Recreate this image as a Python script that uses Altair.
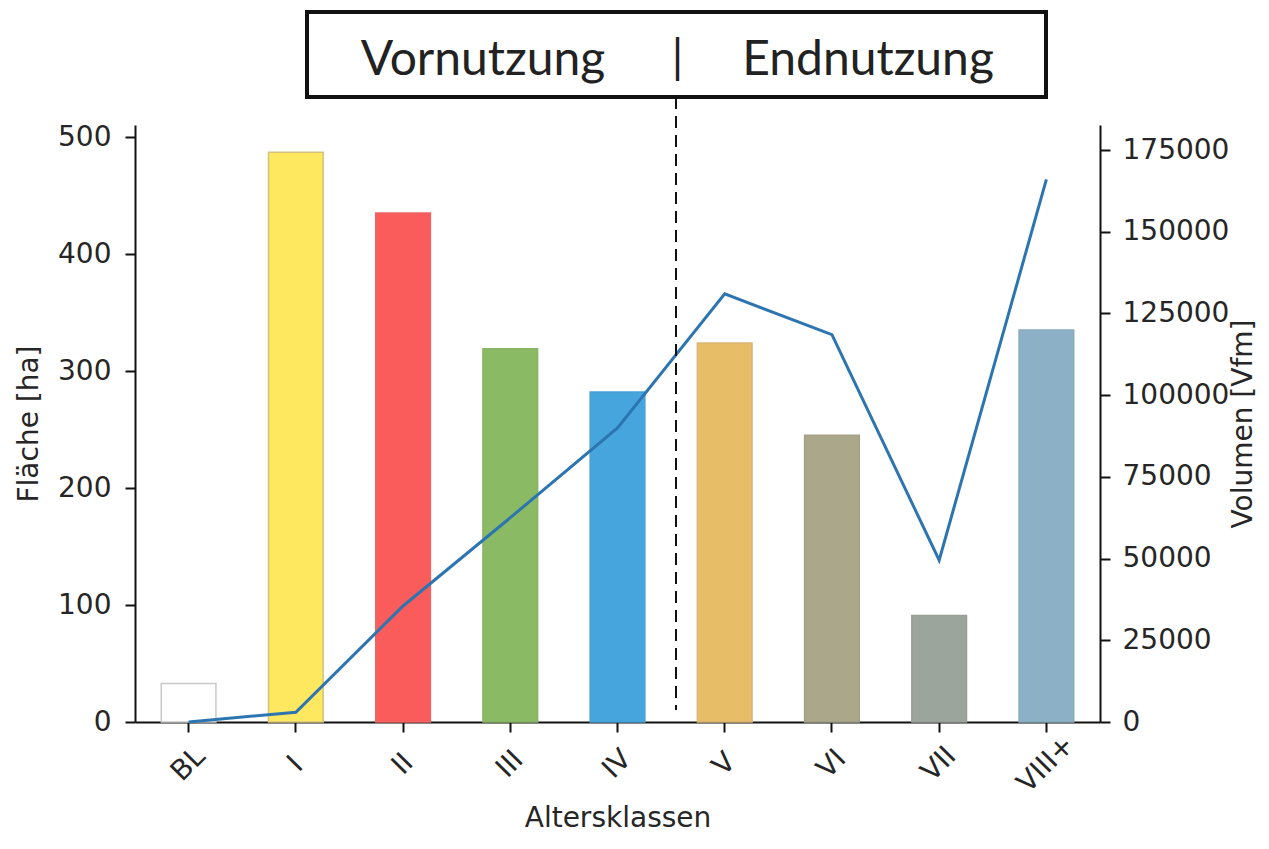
import altair as alt
import pandas as pd

categories = ["BL", "I", "II", "III", "IV", "V", "VI", "VII", "VIII+"]
flaeche = [33, 487, 435, 319, 282, 324, 245, 91, 335]
volumen = [0, 3000, 35500, 62500, 90000, 131000, 118500, 49500, 166000]
fill_colors = ["#ffffff", "#fde85f", "#fa5c5c", "#8bba64", "#47a5dd",
               "#e7bd67", "#aaa78b", "#9ca59b", "#8cb0c6"]
stroke_colors = ["#c9c9c9", "#d6c27e", "#ee6464", "#88b368", "#4aa0d4",
                 "#d9b575", "#a3a088", "#969e96", "#88abc0"]
left_ticks = [0, 100, 200, 300, 400, 500]
right_ticks = [0, 25000, 50000, 75000, 100000, 125000, 150000, 175000]
box_labels = ["Vornutzung", "|", "Endnutzung"]

df = pd.DataFrame({"Altersklasse": categories, "Flaeche": flaeche, "Volumen": volumen})
one = pd.DataFrame({"k": [0]})

FONT = "DejaVu Sans"
BOXFONT = "Lato"
TXT = "#262626"
FS = 28

axis_common = dict(labelFont=FONT, labelFontSize=FS, labelColor=TXT,
                   titleFont=FONT, titleFontSize=FS, titleColor=TXT, titleFontWeight="normal",
                   domainColor="#111111", domainWidth=2, tickColor="#111111", tickWidth=2,
                   tickSize=10, grid=False)

x_enc = alt.X("Altersklasse:N", sort=categories,
              scale=alt.Scale(domain=categories, paddingInner=0, paddingOuter=0),
              axis=alt.Axis(title="Altersklassen", labelAngle=-45, labelAlign="center",
                            labelBaseline="middle", labelPadding=32, titlePadding=7,
                            **axis_common))

bars = alt.Chart(df).mark_bar(width=alt.RelativeBandSize(0.51), strokeWidth=1.5).encode(
    x=x_enc,
    y=alt.Y("Flaeche:Q", scale=alt.Scale(domain=[0, 510.3], nice=False),
            axis=alt.Axis(title="Fläche [ha]", orient="left", values=left_ticks,
                          labelPadding=14, titlePadding=14, **axis_common)),
    fill=alt.Fill("Altersklasse:N", scale=alt.Scale(domain=categories, range=fill_colors), legend=None),
    stroke=alt.Stroke("Altersklasse:N", scale=alt.Scale(domain=categories, range=stroke_colors), legend=None),
)

line = alt.Chart(df).mark_line(color="#2d75b0", strokeWidth=3).encode(
    x=alt.X("Altersklasse:N", sort=categories),
    y=alt.Y("Volumen:Q", scale=alt.Scale(domain=[0, 182650], nice=False),
            axis=alt.Axis(title="Volumen [Vfm]", orient="right", values=right_ticks, format="d",
                          labelPadding=12, titlePadding=1, titleAngle=270, titleBaseline="top",
                          **axis_common)),
)

divider = alt.Chart(one).mark_rule(color="#111111", strokeWidth=2, strokeDash=[12, 7], xOffset=58.5).encode(
    x=alt.XDatum("IV", bandPosition=0.5),
    y=alt.value(-28),
    y2=alt.value(585),
)

box = alt.Chart(one).mark_rect(fill="white", stroke="#111111", strokeWidth=4).encode(
    x=alt.value(172), x2=alt.value(911), y=alt.value(-113), y2=alt.value(-28)
)

t_vor = alt.Chart(one).mark_text(text=box_labels[0], font=BOXFONT, fontSize=48, color="#222222",
                                 align="center", baseline="alphabetic").encode(
    x=alt.value(348), y=alt.value(-50))
t_bar = alt.Chart(one).mark_text(text=box_labels[1], font=BOXFONT, fontSize=46, color="#222222",
                                 align="center", baseline="alphabetic", xOffset=60).encode(
    x=alt.XDatum("IV", bandPosition=0.5), y=alt.value(-52))
t_end = alt.Chart(one).mark_text(text=box_labels[2], font=BOXFONT, fontSize=48, color="#222222",
                                 align="center", baseline="alphabetic").encode(
    x=alt.value(733), y=alt.value(-50))

chart = alt.layer(bars, line, divider, box, t_vor, t_bar, t_end).resolve_scale(
    y="independent"
).properties(
    width=965, height=597,
    background="white",
    autosize=alt.AutoSizeParams(type="none"),
    padding={"left": 127, "top": 117, "right": 161, "bottom": 114},
).configure_view(stroke=None, strokeWidth=0)

chart.save("out.html", embed_options={"renderer": "svg", "actions": False})
